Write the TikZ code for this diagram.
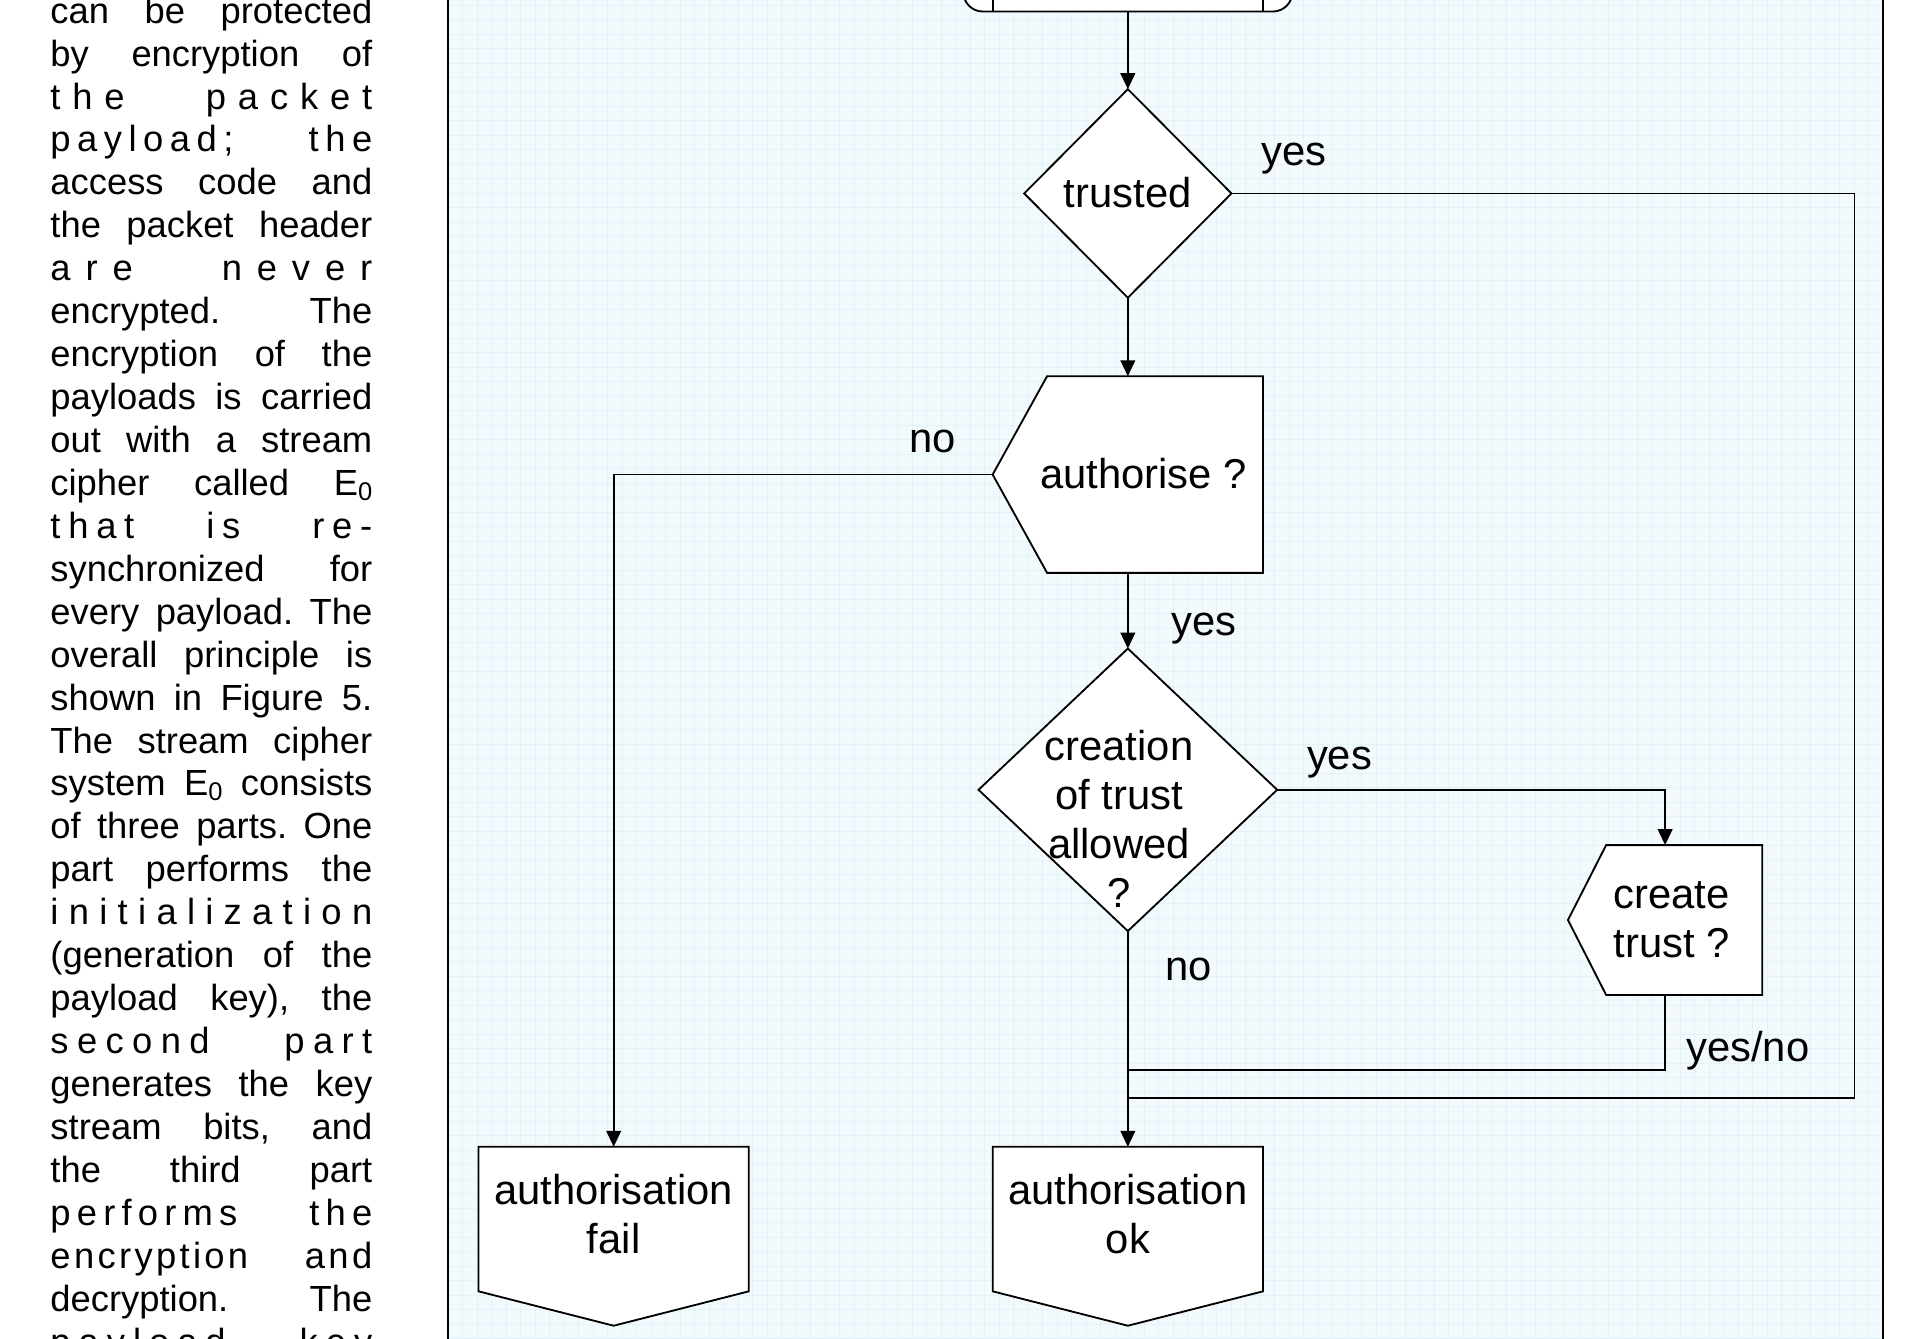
\documentclass[tikz,border=0pt]{standalone}
\usepackage{fontspec}
\setmainfont{Liberation Sans}
\usetikzlibrary{arrows.meta,shapes.geometric,calc}
\frenchspacing
\definecolor{panelbg}{RGB}{243,250,253}
\definecolor{gridc}{RGB}{228,243,250}
\newcommand\bodyfont{\fontsize{14.8pt}{17.475pt}\selectfont}
\newcommand\chartfont{\fontsize{17pt}{20pt}\selectfont}
% letter and word glue for the letter-spaced justified lines
\newcommand\lsp{\hskip 0pt plus 1fil\relax}
\newcommand\wsp[1]{\hskip .278em plus #1fil\relax}
\newcommand\sub[1]{\raisebox{-2pt}{\fontsize{10.4pt}{10.4pt}\selectfont #1}}
\makeatletter
\newcommand\sprd[1]{\sprd@a#1\@nil}
\def\sprd@a#1#2\@nil{#1\ifx\relax#2\relax\else\lsp\sprd@a#2\@nil\fi}
\makeatother
\newcommand\jline[1]{\hbox to\hsize{#1}}
\newcommand\stack[1]{\vtop{\baselineskip=20pt\lineskiplimit=-20pt\halign{\hfil##\hfil\cr#1\crcr}}}
\begin{document}
\begin{tikzpicture}[x=0.5pt,y=-0.5pt,
  conn/.style={draw=black,line width=0.75pt},
  arrowed/.style={conn,-{Triangle[length=6.5pt,width=6pt]}},
  outline/.style={draw=black,fill=white,line width=0.75pt,line join=miter},
  decision/.style={diamond,outline,inner sep=0pt,outer sep=0pt},
  body/.style={rectangle,inner sep=0pt,outer sep=0pt},
  lbl/.style={inner sep=0pt,outer sep=0pt,anchor=base,font=\chartfont},
]
\clip (0,0) rectangle (1568,1090);
\fill[white] (0,0) rectangle (1568,1090);

% drawing panel with its grid
\fill[panelbg] (365,-10) rectangle (1532.6,1100);
\foreach \gx in {376.8,388.6,...,1530} \draw[gridc,line width=0.3pt] (\gx,-10) -- (\gx,1100);
\foreach \gy in {4,15.8,...,1095} \draw[gridc,line width=0.3pt] (365,\gy) -- (1532.6,\gy);
\draw[line width=0.85pt] (365,-10) -- (365,1100);
\draw[line width=0.85pt] (1532.6,-10) -- (1532.6,1100);

% justified text column
\node[inner sep=0pt,anchor=base west] (bodytext) at (40.7,18.9) {\bodyfont\vtop{\hsize=131pt\baselineskip=17.475pt\lineskiplimit=-20pt
\jline{can be protected}
\jline{by encryption of}
\jline{\sprd{the}\wsp{6}\sprd{packet}}
\jline{\sprd{payload;}\wsp{10}\sprd{the}}
\jline{access code and}
\jline{the packet header}
\jline{\sprd{are}\wsp{5.3}\sprd{never}}
\jline{encrypted. The}
\jline{encryption of the}
\jline{payloads is carried}
\jline{out with a stream}
\jline{cipher called E\sub{0}}
\jline{\sprd{that}\wsp{8}\sprd{is}\wsp{8}\sprd{re-}}
\jline{synchronized for}
\jline{every payload. The}
\jline{overall principle is}
\jline{shown in Figure 5.}
\jline{The stream cipher}
\jline{system E\sub{0} consists}
\jline{of three parts. One}
\jline{part performs the}
\jline{\sprd{initialization}}
\jline{(generation of the}
\jline{payload key), the}
\jline{\sprd{second}\wsp{7.7}\sprd{part}}
\jline{generates the key}
\jline{stream bits, and}
\jline{the third part}
\jline{\sprd{performs}\wsp{10}\sprd{the}}
\jline{\sprd{encryption}\wsp{14}\sprd{and}}
\jline{decryption. The}
\jline{\sprd{payload}\wsp{8}\sprd{key}}
}};

% flowchart shapes
\node[body,draw=black,fill=white,line width=0.75pt,rounded corners=8pt,minimum width=134pt,minimum height=40pt] (start) at (918.2,-30.6) {};
\draw[conn] ($(start.north west)+(24,0)$) -- ($(start.south west)+(24,0)$);
\draw[conn] ($(start.north east)+(-24,0)$) -- ($(start.south east)+(-24,0)$);

\node[decision,minimum width=84.35pt,minimum height=84.9pt] (trusted) at (918.2,157.5) {};

\node[body,minimum width=110.05pt,minimum height=80.05pt] (authorise) at (918.2,386.35) {};
\draw[outline] ($(authorise.north west)+(44.3,0)$) -- (authorise.north east) -- (authorise.south east) -- ($(authorise.south west)+(44.3,0)$) -- (authorise.west) -- cycle;

\node[decision,minimum width=121.55pt,minimum height=115pt] (creation) at (918.2,643) {};

\node[body,minimum width=79.1pt,minimum height=61pt] (create) at (1355.6,749) {};
\draw[outline] ($(create.north west)+(31.1,0)$) -- (create.north east) -- (create.south east) -- ($(create.south west)+(31.1,0)$) -- (create.west) -- cycle;

\node[body,minimum width=110pt,minimum height=72.85pt] (fail) at (499.6,1006.45) {};
\draw[outline] (fail.north west) -- (fail.north east) -- ($(fail.south east)+(0,-28)$) -- (fail.south) -- ($(fail.south west)+(0,-28)$) -- cycle;

\node[body,minimum width=110pt,minimum height=72.85pt] (ok) at (918.2,1006.45) {};
\draw[outline] (ok.north west) -- (ok.north east) -- ($(ok.south east)+(0,-28)$) -- (ok.south) -- ($(ok.south west)+(0,-28)$) -- cycle;

% junction points on the line into "authorisation ok"
\coordinate (loop) at (1509.8,894);
\coordinate (j2) at (918.2,894);
\coordinate (j1) at (918.2,871.4);

% connectors
\draw[arrowed] (start.south) -- (trusted.north);
\draw[arrowed] (trusted.south) -- (authorise.north);
\draw[conn] (trusted.east) -| (loop) -- (j2);
\draw[arrowed] (authorise.west) -| (fail.north);
\draw[arrowed] (authorise.south) -- (creation.north);
\draw[arrowed] (creation.east) -| (create.north);
\draw[conn] (create.south) |- (j1);
\draw[arrowed] (creation.south) -- (ok.north);

% shape texts
\node[lbl] (ttrusted) at (918,169.2) {trusted};
\node[lbl] (tauthorise) at (931,397.3) {authorise ?};
\node[lbl] (tcreation) at (911,618.9) {\stack{creation\cr of trust\cr allowed\cr ?}};
\node[lbl] (tcreate) at (1361,739.8) {\stack{create\cr trust ?}};
\node[lbl] (tfail) at (499.6,980.7) {\stack{authorisation\cr fail}};
\node[lbl] (tok) at (918.2,980.7) {\stack{authorisation\cr ok}};

% branch labels
\node[lbl] (lyes1) at (1053.5,134.6) {yes};
\node[lbl] (lno1) at (759,368.6) {no};
\node[lbl] (lyes2) at (980,517.2) {yes};
\node[lbl] (lyes3) at (1090.5,626.6) {yes};
\node[lbl] (lno2) at (967.5,798.5) {no};
\node[lbl] (lyesno) at (1423,864.4) {yes/no};
\end{tikzpicture}
\end{document}
